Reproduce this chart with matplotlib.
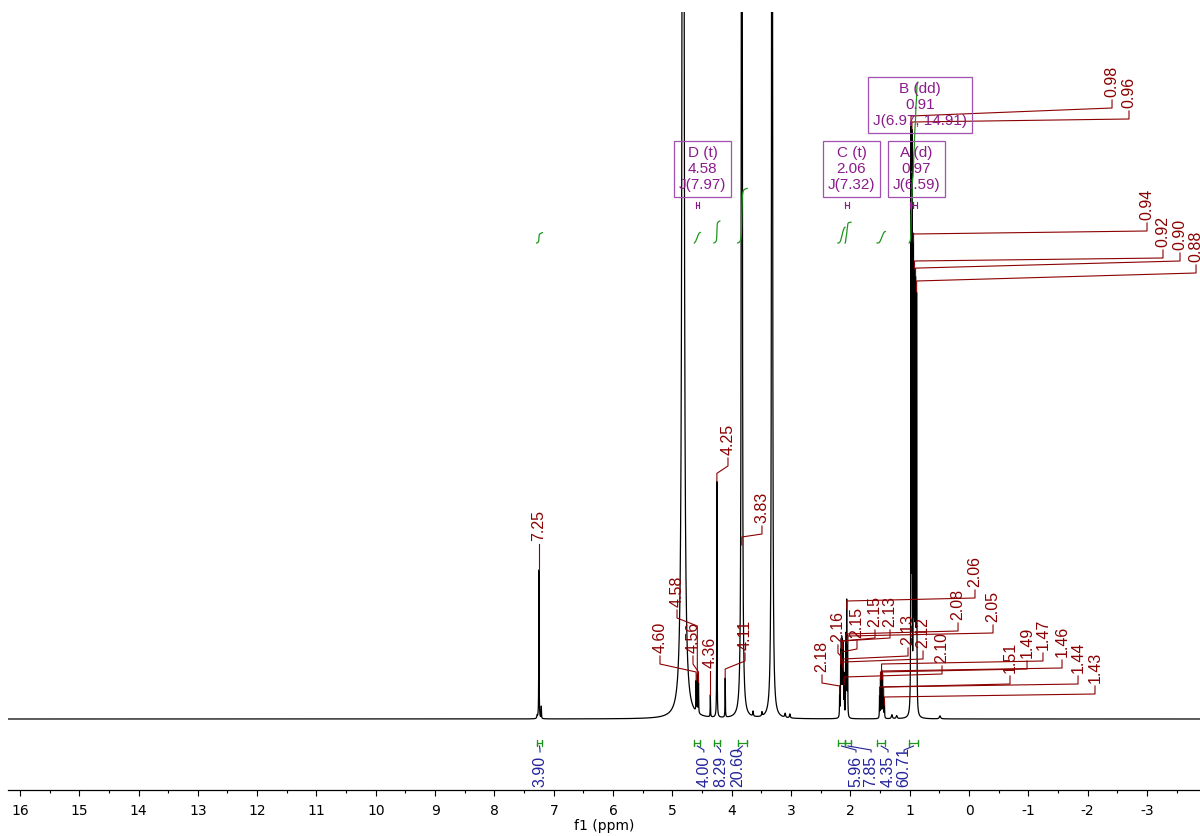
import numpy as np
import matplotlib.pyplot as plt

plt.rcParams['axes.unicode_minus'] = False
plt.rcParams['font.family'] = ['DejaVu Sans']

RED = '#8b0000'
BLUE = '#23239b'
GREEN = '#1e961e'
PURPLE = '#8b1a8b'
BOX_EDGE = '#a050b0'
LABEL_FONT = 'Liberation Sans'

# 1H resonances: shift (ppm), height, half width (ppm)
# labelled lines first, then solvent / small unlabelled lines
lab_shift = [7.25, 4.60, 4.58, 4.56, 4.36, 4.25, 4.11, 3.83,
             2.18, 2.163, 2.153, 2.146, 2.134, 2.127, 2.118, 2.104,
             2.077, 2.062, 2.047,
             1.508, 1.492, 1.474, 1.458, 1.442, 1.426,
             0.978, 0.962, 0.937, 0.919, 0.901, 0.883]
lab_height = [149, 30, 37, 30, 22, 236, 39, 3000,
              29, 60, 62, 65, 62, 58, 52, 40,
              80, 113, 78,
              22, 38, 46, 42, 28, 16,
              570, 560, 460, 420, 415, 410]
lab_hwhm = [0.003] * 7 + [0.005] + [0.003] * 23

other_shift = [7.21, 7.28, 4.82, 3.64, 3.49, 3.32, 3.10, 3.02, 1.30, 1.22, 0.49]
other_height = [12, 3, 2500, 5, 4, 3000, 4, 4, 4, 3, 3]
other_hwhm = [0.003, 0.006, 0.012, 0.006, 0.006, 0.005, 0.008, 0.008, 0.01, 0.01, 0.012]

# where each shift label sits: x (ppm) and bottom of the text (height units)
lab_text_x = [7.25, 5.209, 4.922, 4.653, 4.36, 4.063, 3.776, 3.490,
              2.478, 2.209, 1.888, 1.585, 1.332, 1.028, 0.775, 0.455,
              0.185, -0.101, -0.405,
              -0.691, -0.978, -1.247, -1.568, -1.838, -2.124,
              -2.411, -2.697, -3.001, -3.270, -3.557, -3.827]
lab_text_h = [178, 66, 112, 66, 51, 264, 69, 196,
              47, 77, 81, 92, 92, 74, 71, 56,
              99, 132, 97,
              46, 61, 69, 62, 46, 36,
              622, 611, 499, 472, 469, 457]

# integrals
int_from = [7.29, 4.63, 4.30, 3.90, 2.21, 2.09, 1.55, 1.01]
int_to = [7.19, 4.53, 4.20, 3.74, 2.09, 1.99, 1.41, 0.86]
int_value = [3.90, 4.00, 8.29, 20.60, 5.96, 7.85, 4.35, 60.71]
int_text_x = [7.232, 4.470, 4.190, 3.900, 1.905, 1.650, 1.365, 1.095]

# multiplet analysis
mult_name = ['D (t)', 'C (t)', 'A (d)', 'B (dd)']
mult_shift = [4.58, 2.06, 0.97, 0.91]
mult_J = ['7.97', '7.32', '6.59', '6.97, 14.91']
mult_from = [4.61, 2.09, 0.99, 0.95]
mult_to = [4.55, 2.03, 0.95, 0.87]
mult_box_x = [4.493, 1.981, 0.885, 0.826]
mult_box_h = [550, 550, 550, 614]


def lorentz(x, x0, h, w):
    return h * w ** 2 / ((x - x0) ** 2 + w ** 2)


shifts = lab_shift + other_shift
heights = lab_height + other_height
widths = lab_hwhm + other_hwhm

ppm = np.linspace(16.2, -3.9, 80000)
spec = np.zeros_like(ppm)
for x0, h, w in zip(shifts, heights, widths):
    spec += lorentz(ppm, x0, h, w)


def spec_at(x):
    return sum(lorentz(x, x0, h, w) for x0, h, w in zip(shifts, heights, widths))


fig = plt.figure(figsize=(12, 8.36), dpi=100)
ax = fig.add_axes([8 / 1200, 46 / 836, 1192 / 1200, 778 / 836])
ax.set_xlim(16.2, -3.894)
ax.set_ylim(-71, 707)

ax.plot(ppm, spec, color='black', lw=0.9)

# peak labels with leader lines
for s, tx, th in zip(lab_shift, lab_text_x, lab_text_h):
    top = min(spec_at(s), th - 22)
    tb = th - 11
    bend = max(tb - 8, top + 8)
    ax.plot([s, s, tx, tx], [top, bend, tb, th - 3], color=RED, lw=0.8,
            clip_on=False)
    ax.text(tx, th, f'{s:.2f}', rotation=90, ha='center', va='bottom',
            color=RED, fontsize=11.5, family=LABEL_FONT, clip_on=False)

# integral curves, brackets and values
int_base = 476
for a, b, v, tx in zip(int_from, int_to, int_value, int_text_x):
    m = (ppm <= a) & (ppm >= b)
    cum = np.cumsum(spec[m])
    cum = cum / cum[-1]
    ax.plot(ppm[m], int_base + 2.65 * v * cum, color=GREEN, lw=0.9)
    ax.plot([a, a, a, b, b, b], [-21, -27, -24, -24, -21, -27], color=GREEN, lw=0.9)
    mid = (a + b) / 2
    ax.plot([mid, tx, tx], [-27, -31, -33], color=BLUE, lw=0.8)
    ax.text(tx, -68, f'{v:.2f}', rotation=90, ha='center', va='bottom',
            color=BLUE, fontsize=11.5, family=LABEL_FONT)

# multiplet boxes
for name, s, j, a, b, bx, bh in zip(mult_name, mult_shift, mult_J, mult_from,
                                     mult_to, mult_box_x, mult_box_h):
    ax.text(bx, bh, f'{name}\n{s:.2f}\nJ({j})', ha='center', va='center',
            color=PURPLE, fontsize=11, family=LABEL_FONT, linespacing=1.2,
            multialignment='center',
            bbox=dict(boxstyle='square,pad=0.32', fc='none', ec=BOX_EDGE, lw=0.9))
    ax.plot([a, a, a, b, b, b], [511, 517, 514, 514, 511, 517], color=PURPLE, lw=0.8)

# axis styling
for side in ('top', 'left', 'right'):
    ax.spines[side].set_visible(False)
ax.spines['bottom'].set_linewidth(0.9)
ax.set_yticks([])
ax.set_xticks(np.arange(-3, 17))
ax.set_xticks(np.arange(-3.5, 16.5, 1.0), minor=True)
ax.set_xticklabels([str(t) for t in range(-3, 17)])
ax.tick_params(axis='x', which='major', direction='out', length=4, width=0.8,
               pad=6, labelsize=10)
ax.tick_params(axis='x', which='minor', direction='out', length=2.5, width=0.8)
ax.set_xlabel('f1 (ppm)', fontsize=10, labelpad=1)

fig.savefig('out.png', dpi=100)
